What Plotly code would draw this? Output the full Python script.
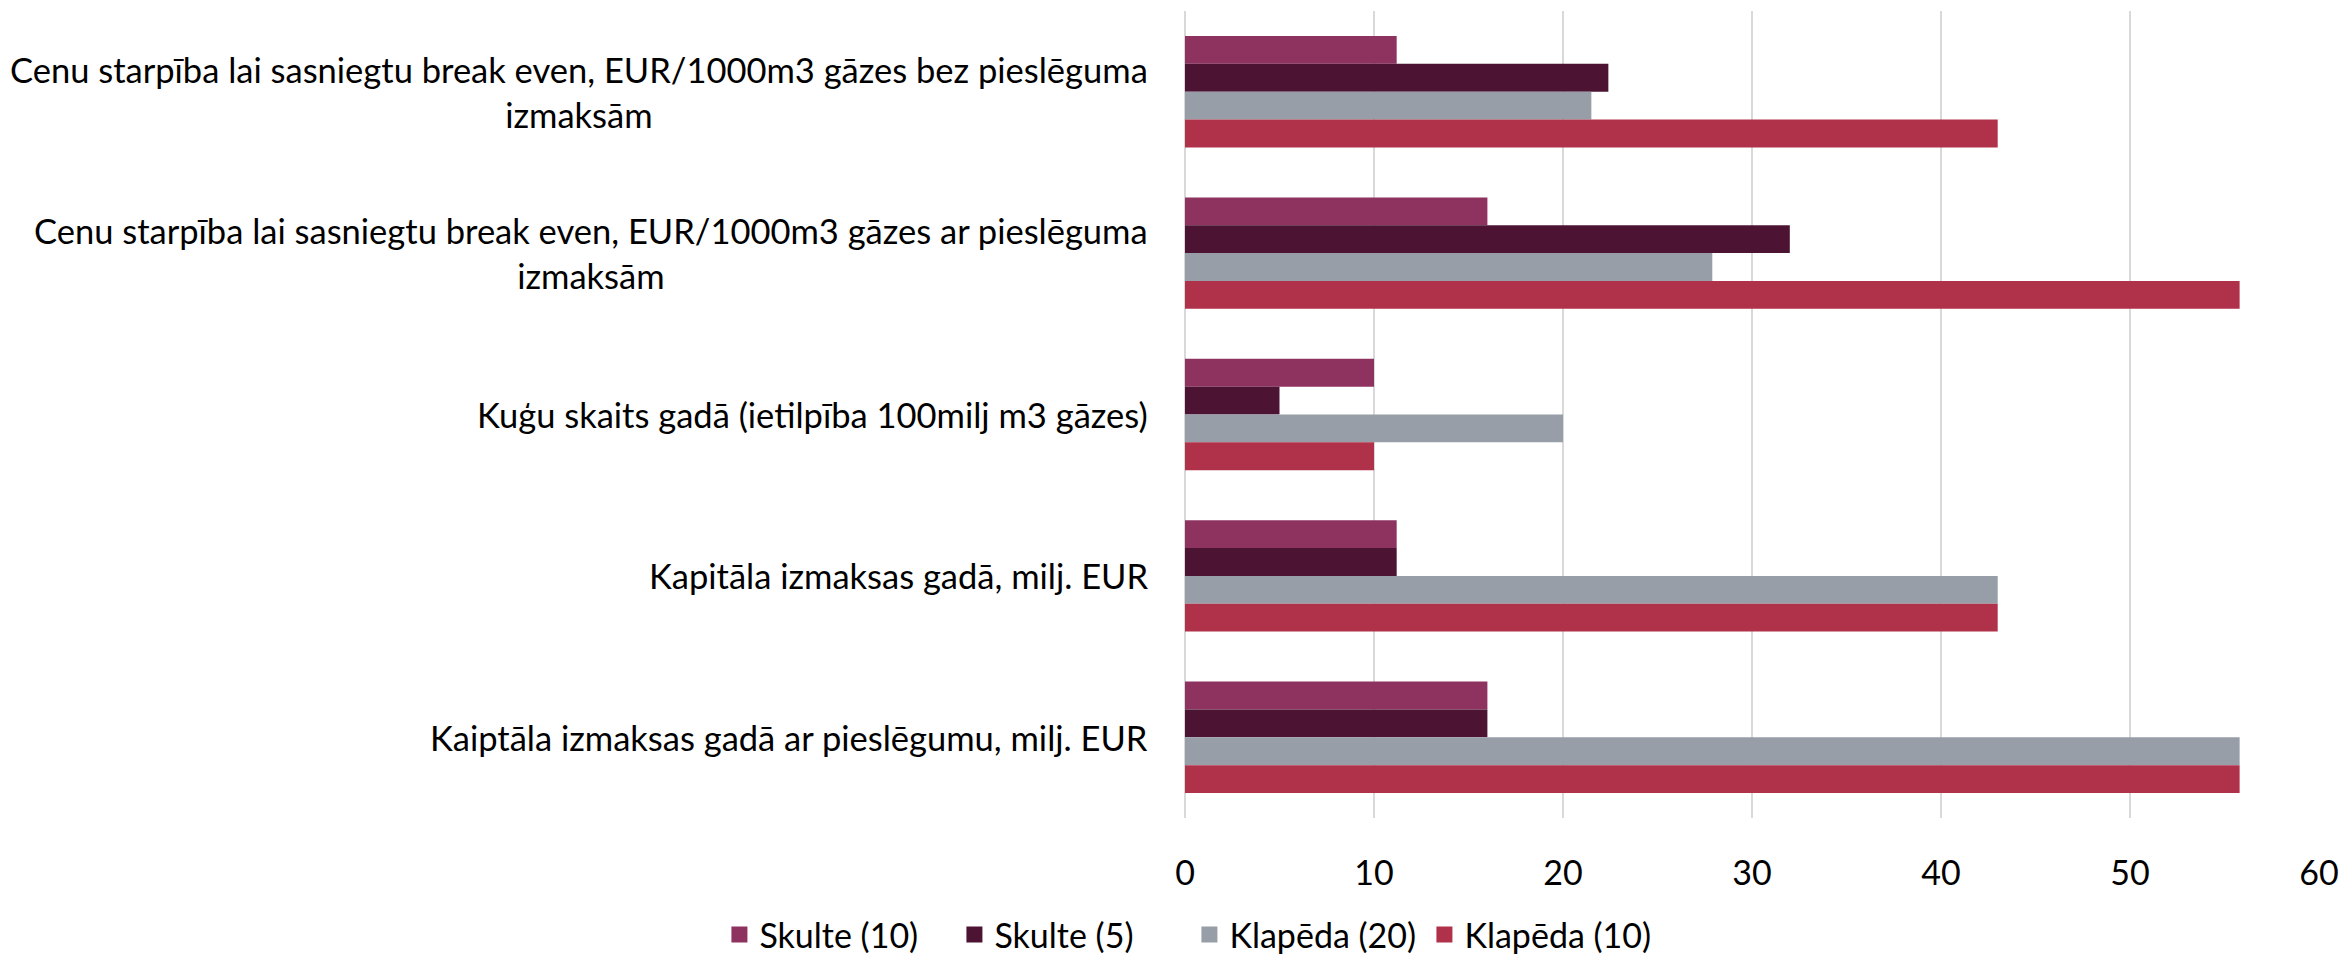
import plotly.graph_objects as go

categories = [
    "Cenu starpība lai sasniegtu break even, EUR/1000m3 gāzes bez pieslēguma<br>izmaksām",
    "Cenu starpība lai sasniegtu break even, EUR/1000m3 gāzes ar pieslēguma<br>izmaksām",
    "Kuģu skaits gadā (ietilpība 100milj m3 gāzes)",
    "Kapitāla izmaksas gadā, milj. EUR",
    "Kaiptāla izmaksas gadā ar pieslēgumu, milj. EUR",
]
series_names = ["Skulte (10)", "Skulte (5)", "Klapēda (20)", "Klapēda (10)"]
skulte_10 = [11.2, 16.0, 10, 11.2, 16.0]
skulte_5 = [22.4, 32.0, 5, 11.2, 16.0]
klapeda_20 = [21.5, 27.9, 20, 43.0, 55.8]
klapeda_10 = [43.0, 55.8, 10, 43.0, 55.8]
series_values = [skulte_10, skulte_5, klapeda_20, klapeda_10]
colors = ["#8E3260", "#4C1432", "#979EA7", "#B0324A"]
x_ticks = [0, 10, 20, 30, 40, 50, 60]

FONT = "Lato, 'Open Sans', sans-serif"

fig = go.Figure()
for name, vals, col in zip(series_names, series_values, colors):
    fig.add_trace(go.Bar(
        y=categories, x=vals, name=name, orientation="h",
        marker=dict(color=col, line=dict(width=0)),
        showlegend=False, legendgroup=name,
    ))
# legend entries with larger square swatches
for name, col in zip(series_names, colors):
    fig.add_trace(go.Scatter(
        x=[None], y=[None], mode="markers", name=name, legendgroup=name,
        marker=dict(symbol="square", size=21, color=col),
        showlegend=True,
    ))

for cat in categories:
    fig.add_annotation(
        x=0, xref="paper", y=cat, yref="y", text=cat,
        xanchor="right", yanchor="middle", align="center",
        xshift=-35, showarrow=False,
        font=dict(family=FONT, size=34.5, color="#000000"),
    )

fig.update_layout(
    width=2346, height=955,
    paper_bgcolor="white", plot_bgcolor="white",
    margin=dict(l=1185, r=27, t=11, b=137, autoexpand=False),
    barmode="group", bargap=0.31, bargroupgap=0,
    font=dict(family=FONT, size=34, color="#000000"),
    legend=dict(
        orientation="h", xref="container", yref="container",
        x=0.507, xanchor="center", y=0.021, yanchor="middle",
        font=dict(family=FONT, size=34, color="#000000"),
        traceorder="normal", itemwidth=30, entrywidth=190,
    ),
    showlegend=True,
)
fig.update_xaxes(
    range=[0, 60], tickvals=x_ticks, showgrid=True, gridcolor="#D9D9D9",
    gridwidth=1.5, zeroline=True, zerolinecolor="#D9D9D9", zerolinewidth=1.5,
    showline=False, ticks="", ticklabelstandoff=32,
    tickfont=dict(family=FONT, size=34, color="#000000"),
)
fig.update_yaxes(
    categoryorder="array", categoryarray=categories, autorange="reversed",
    showticklabels=False, showgrid=False, zeroline=False, showline=False, ticks="",
    range=None,
)

fig.write_html("out.html", config={"displayModeBar": False},
               post_script="document.body.style.margin='0';")
